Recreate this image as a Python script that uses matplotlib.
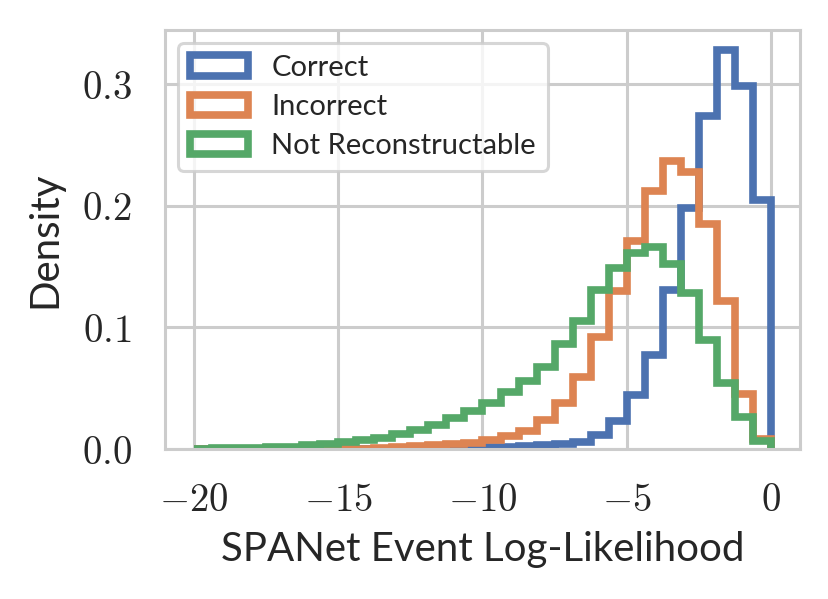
import numpy as np
import matplotlib
matplotlib.use('Agg')
import matplotlib.pyplot as plt

# ============================== Data ============================== #
# 32 equal bins between -20 and 0, heights are densities
bin_lo, bin_hi, n_bins = -20.0, 0.0, 32

correct = [0, 0, 0, 0, 0, 0, 0, 0, 0, 0, 0, 0, 0, 0, 0, 0,
           0.0015, 0.002, 0.0025, 0.003, 0.0045, 0.006, 0.0115, 0.023,
           0.044, 0.077, 0.131, 0.198, 0.274, 0.328, 0.298, 0.205]

incorrect = [0, 0, 0, 0, 0, 0, 0, 0, 0, 0.0004, 0.001, 0.0017, 0.0025, 0.0034, 0.0042, 0.0053,
             0.0072, 0.0104, 0.015, 0.024, 0.038, 0.059, 0.092, 0.130,
             0.171, 0.212, 0.237, 0.228, 0.185, 0.122, 0.0456, 0.008]

not_reco = [0.0004, 0.0007, 0.001, 0.0012, 0.0015, 0.002, 0.0029, 0.004,
            0.0055, 0.0072, 0.0092, 0.0127, 0.0154, 0.0195, 0.0255, 0.031,
            0.038, 0.047, 0.056, 0.067, 0.086, 0.105, 0.131, 0.149,
            0.161, 0.166, 0.152, 0.128, 0.0896, 0.054, 0.026, 0.0068]

labels = ['Correct', 'Incorrect', 'Not Reconstructable']
colors = ['#4C72B0', '#DD8452', '#55A868']

xticks = [-20, -15, -10, -5, 0]
xtick_labels = [r'$-20$', r'$-15$', r'$-10$', r'$-5$', r'$0$']
yticks = [0.0, 0.1, 0.2, 0.3]
ytick_labels = [r'$0.0$', r'$0.1$', r'$0.2$', r'$0.3$']

# ============================== Plot ============================== #
plt.rcParams['mathtext.fontset'] = 'cm'
plt.rcParams['font.family'] = ['Lato', 'DejaVu Sans']

edges = np.linspace(bin_lo, bin_hi, n_bins + 1)
centers = 0.5 * (edges[:-1] + edges[1:])

fig = plt.figure(figsize=(8.29, 5.99), dpi=100)
ax = fig.add_axes([165 / 829, 1 - 449 / 599, 635 / 829, 419 / 599])

for vals, lab, col in zip([correct, incorrect, not_reco], labels, colors):
    ax.hist(centers, bins=edges, weights=vals, histtype='step',
            color=col, linewidth=5.5, label=lab)

ax.set_axisbelow(True)
ax.grid(True, color='#cccccc', linewidth=2.2)
for sp in ax.spines.values():
    sp.set_color('#cccccc')
    sp.set_linewidth(2.2)

ax.set_xticks(xticks)
ax.set_xticklabels(xtick_labels)
ax.set_yticks(yticks)
ax.set_yticklabels(ytick_labels)
ax.tick_params(axis='both', length=0, pad=24, labelsize=28, colors='#262626')

ax.set_xlabel('SPANet Event Log-Likelihood', fontsize=29, labelpad=9, color='#262626')
ax.set_ylabel('Density', fontsize=29, labelpad=13, color='#262626')

leg = ax.legend(loc='upper left', fontsize=21, fancybox=True, framealpha=0.8,
                borderaxespad=0.45, labelspacing=0.45)
leg.get_frame().set_edgecolor('#cccccc')
leg.get_frame().set_linewidth(2.2)
for t in leg.get_texts():
    t.set_color('#262626')

fig.savefig('out.png', dpi=100)
